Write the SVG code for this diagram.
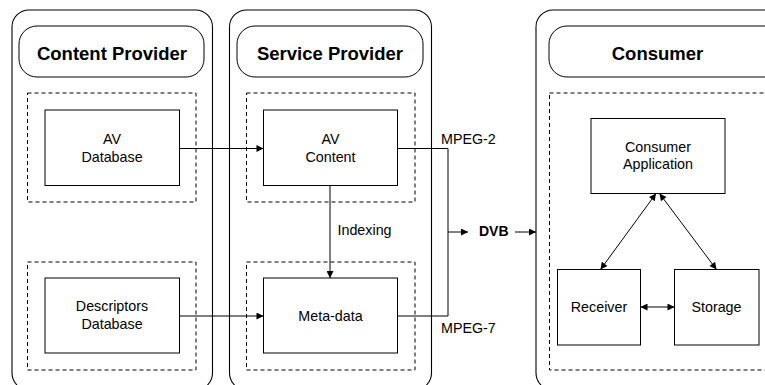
<svg xmlns="http://www.w3.org/2000/svg" width="765" height="385" viewBox="0 0 765 385">
  <style>
    .lane { fill: #fff; stroke: #000; stroke-width: 1.1; }
    .head { fill: #fff; stroke: #000; stroke-width: 1; }
    .group { fill: none; stroke: #000; stroke-width: 1; stroke-dasharray: 4 3; }
    .box { fill: #fff; stroke: #000; stroke-width: 1; }
    .title { font-family: "Liberation Sans", Arial, sans-serif; font-size: 18.5px; font-weight: bold; text-anchor: middle; fill: #000; }
    .label { font-family: "Liberation Sans", Arial, sans-serif; font-size: 14.3px; text-anchor: middle; fill: #000; }
    .note { font-family: "Liberation Sans", Arial, sans-serif; font-size: 14.3px; fill: #000; }
    .bold { font-weight: bold; font-size: 14px; }
    .edge { fill: none; stroke: #000; stroke-width: 1; }
  </style>
  <defs>
    <marker id="arrow" viewBox="0 0 10 10" refX="10" refY="5" markerWidth="8" markerHeight="7" markerUnits="userSpaceOnUse" orient="auto-start-reverse">
      <path d="M0,0 L10,5 L0,10 Z" fill="#000"/>
    </marker>
  </defs>

  <!-- swimlanes -->
  <g id="lane-content-provider">
    <rect class="lane" x="12" y="10" width="200.5" height="380" rx="17"/>
    <rect class="head" x="19" y="26" width="185" height="51" rx="18"/>
    <text class="title" x="112" y="60">Content Provider</text>
    <rect class="group" x="27.5" y="93" width="168.5" height="109"/>
    <rect class="group" x="27.5" y="262" width="168.5" height="108"/>
  </g>
  <g id="lane-service-provider">
    <rect class="lane" x="229.5" y="10" width="202" height="380" rx="17"/>
    <rect class="head" x="237" y="26" width="186" height="51" rx="18"/>
    <text class="title" x="330" y="60">Service Provider</text>
    <rect class="group" x="246.5" y="93" width="168.5" height="109"/>
    <rect class="group" x="246.5" y="262" width="168.5" height="108"/>
  </g>
  <g id="lane-consumer">
    <rect class="lane" x="536" y="10" width="250" height="380" rx="17"/>
    <rect class="head" x="549" y="26" width="235" height="51" rx="18"/>
    <text class="title" x="657.5" y="60">Consumer</text>
    <rect class="group" x="549.5" y="93" width="230" height="277"/>
  </g>

  <!-- nodes -->
  <g id="av-database">
    <rect class="box" x="45" y="110" width="134.5" height="75.5"/>
    <text class="label" x="112" y="143.5">AV</text>
    <text class="label" x="112" y="161.5">Database</text>
  </g>
  <g id="descriptors-database">
    <rect class="box" x="45" y="278" width="134.5" height="75"/>
    <text class="label" x="112" y="311">Descriptors</text>
    <text class="label" x="112" y="329">Database</text>
  </g>
  <g id="av-content">
    <rect class="box" x="263.5" y="110" width="134" height="75.5"/>
    <text class="label" x="330.5" y="143.5">AV</text>
    <text class="label" x="330.5" y="161.5">Content</text>
  </g>
  <g id="meta-data">
    <rect class="box" x="263.5" y="278" width="134" height="75"/>
    <text class="label" x="330.5" y="321">Meta-data</text>
  </g>
  <g id="consumer-application">
    <rect class="box" x="591" y="118.5" width="134" height="75"/>
    <text class="label" x="658" y="152">Consumer</text>
    <text class="label" x="658" y="169">Application</text>
  </g>
  <g id="receiver">
    <rect class="box" x="557.5" y="269.5" width="83" height="75.5"/>
    <text class="label" x="599" y="312">Receiver</text>
  </g>
  <g id="storage">
    <rect class="box" x="674.5" y="269.5" width="84.5" height="75.5"/>
    <text class="label" x="716.5" y="312">Storage</text>
  </g>
  <g id="dvb">
    <text class="note bold" x="479" y="236">DVB</text>
  </g>

  <!-- connectors -->
  <g id="connectors">
    <path class="edge" d="M179.5,148.5 H263.5" marker-end="url(#arrow)"/>
    <path class="edge" d="M179.5,316 H263.5" marker-end="url(#arrow)"/>
    <path class="edge" d="M330,185.5 V278" marker-end="url(#arrow)"/>
    <path class="edge" d="M397.5,148.5 H448 V316 H397.5"/>
    <path class="edge" d="M448,232 H468" marker-end="url(#arrow)"/>
    <path class="edge" d="M515,232 H536" marker-end="url(#arrow)"/>
    <path class="edge" d="M656,193.5 L600.5,269.5" marker-start="url(#arrow)" marker-end="url(#arrow)"/>
    <path class="edge" d="M659.5,193.5 L716.5,269.5" marker-start="url(#arrow)" marker-end="url(#arrow)"/>
    <path class="edge" d="M640.5,307 H674.5" marker-start="url(#arrow)" marker-end="url(#arrow)"/>
    <text class="note" x="337.5" y="235">Indexing</text>
    <text class="note" x="441" y="143.5">MPEG-2</text>
    <text class="note" x="441" y="332.5">MPEG-7</text>
  </g>
</svg>
